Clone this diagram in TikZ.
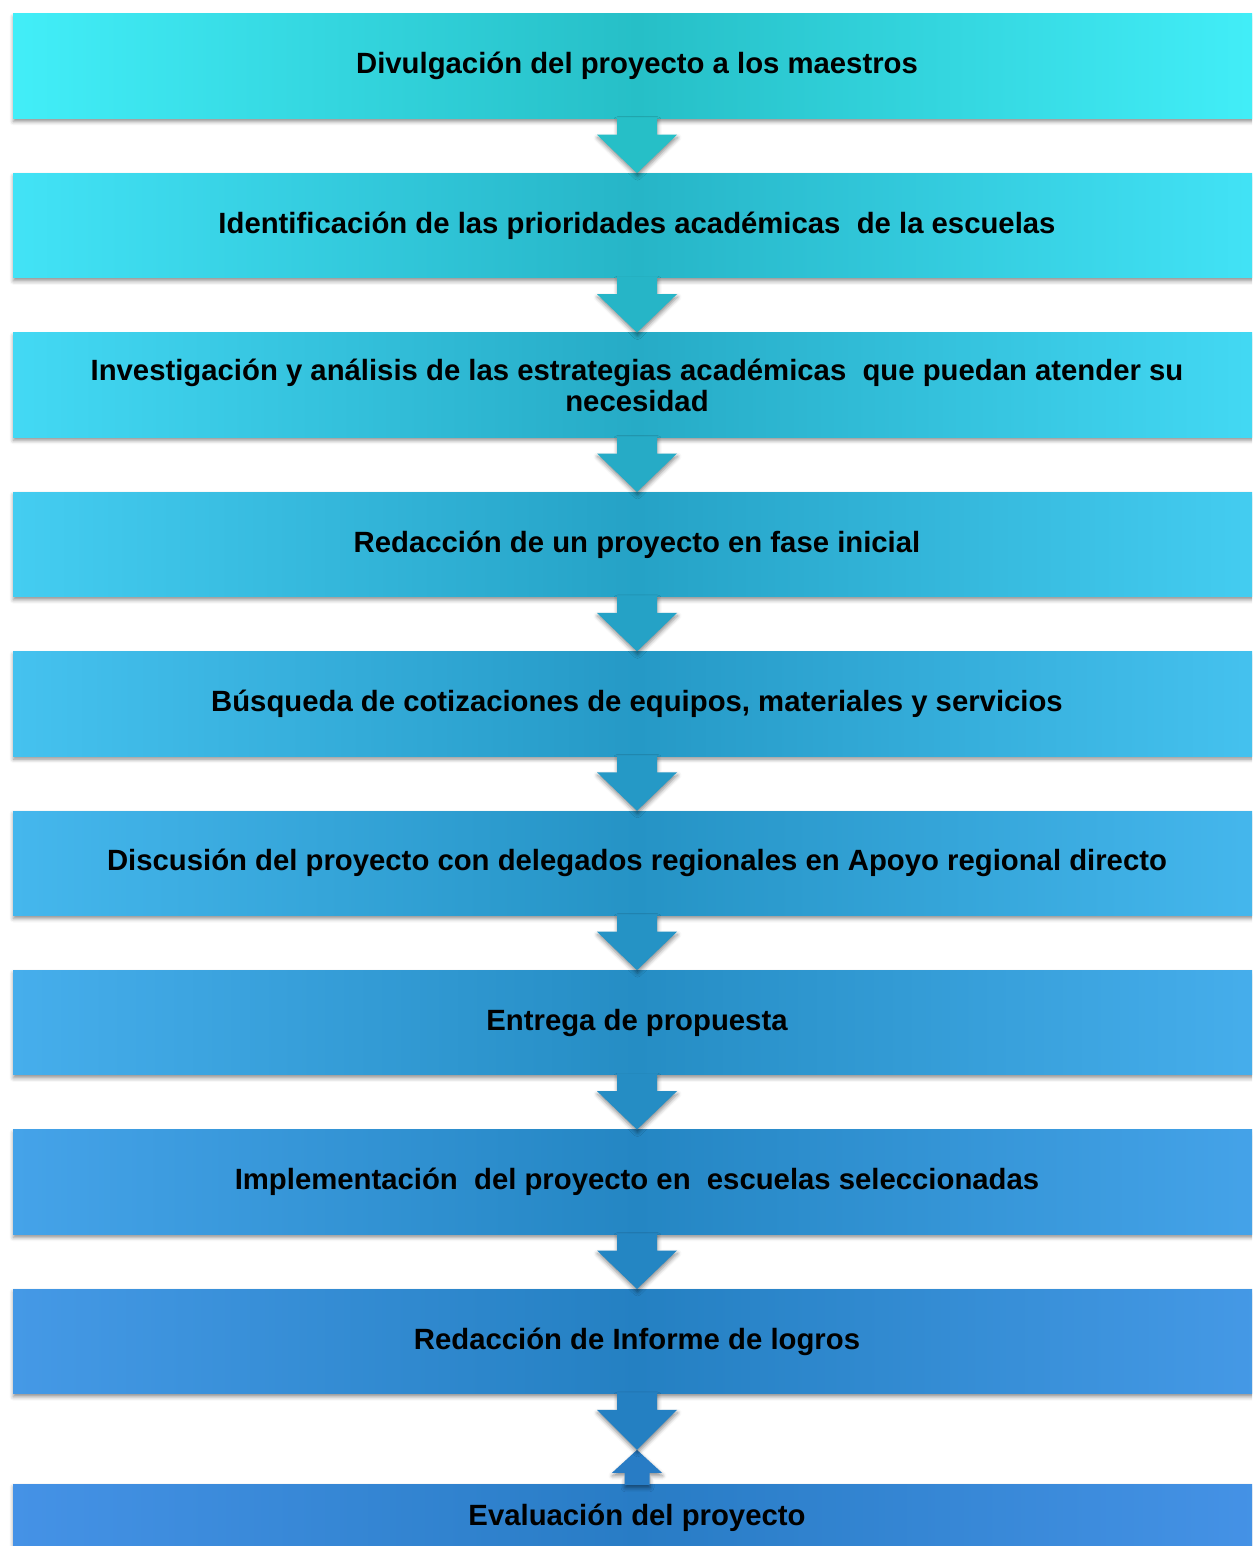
\documentclass[tikz,border=0pt]{standalone}
\usepackage{fontspec}
\setmainfont{Liberation Sans}
\usetikzlibrary{shadows.blur,calc}
\definecolor{e0}{RGB}{66,238,248}\definecolor{c0}{RGB}{38,191,199}
\definecolor{e1}{RGB}{66,227,246}\definecolor{c1}{RGB}{38,181,199}
\definecolor{e2}{RGB}{67,217,244}\definecolor{c2}{RGB}{38,171,198}
\definecolor{e3}{RGB}{68,205,241}\definecolor{c3}{RGB}{37,162,198}
\definecolor{e4}{RGB}{69,194,239}\definecolor{c4}{RGB}{37,153,198}
\definecolor{e5}{RGB}{69,183,237}\definecolor{c5}{RGB}{37,147,197}
\definecolor{e6}{RGB}{70,174,236}\definecolor{c6}{RGB}{37,141,196}
\definecolor{e7}{RGB}{69,163,233}\definecolor{c7}{RGB}{36,134,195}
\definecolor{e8}{RGB}{69,153,230}\definecolor{c8}{RGB}{36,128,194}
\definecolor{e9}{RGB}{69,146,230}\definecolor{c9}{RGB}{40,124,197}
\tikzset{
  sh/.style={blur shadow={shadow xshift=0.5pt, shadow yshift=-3pt, shadow blur radius=4pt, shadow opacity=45}},
  stepbox/.style={sh, draw=none, minimum width=1248pt, minimum height=104.5pt, inner sep=0pt,
    align=center, text=black, font=\fontsize{29.3}{31}\selectfont\bfseries},
  arr/.style={sh, draw=none}
}
\begin{document}
\begin{tikzpicture}[x=1pt,y=1pt]
\useasboundingbox (0,0) rectangle (1252,-1546);
\clip (0,0) rectangle (1252,-1546);
\node[stepbox, left color=e0, right color=e0, middle color=c0] (b0) at (637,-66.25) {Divulgación del proyecto a los maestros};
\node[stepbox, left color=e1, right color=e1, middle color=c1] (b1) at (637,-225.65) {Identificación de las prioridades académicas\ \ de la escuelas};
\node[stepbox, left color=e2, right color=e2, middle color=c2] (b2) at (637,-385.05) {Investigación y análisis de las estrategias académicas\ \ que puedan atender su\\necesidad};
\node[stepbox, left color=e3, right color=e3, middle color=c3] (b3) at (637,-544.45) {Redacción de un proyecto en fase inicial};
\node[stepbox, left color=e4, right color=e4, middle color=c4] (b4) at (637,-703.85) {Búsqueda de cotizaciones de equipos, materiales y servicios};
\node[stepbox, left color=e5, right color=e5, middle color=c5] (b5) at (637,-863.25) {Discusión del proyecto con delegados regionales en Apoyo regional directo};
\node[stepbox, left color=e6, right color=e6, middle color=c6] (b6) at (637,-1022.65) {Entrega de propuesta};
\node[stepbox, left color=e7, right color=e7, middle color=c7] (b7) at (637,-1182.05) {Implementación\ \ del proyecto en\ \ escuelas seleccionadas};
\node[stepbox, left color=e8, right color=e8, middle color=c8] (b8) at (637,-1341.45) {Redacción de Informe de logros};
\node[stepbox, minimum height=68pt, left color=e9, right color=e9, middle color=c9] (b9) at (637,-1518) {Evaluación del proyecto};
\foreach \i/\j in {0/1,1/2,2/3,3/4,4/5,5/6,6/7,7/8}{
  \fill[arr, fill=c\i] ($(b\i.south)+(-20,1)$) -- ($(b\i.south)+(-20,-16)$) -- ($(b\i.south)+(-40,-16)$)
    -- (b\j.north) -- ($(b\i.south)+(40,-16)$) -- ($(b\i.south)+(20,-16)$) -- ($(b\i.south)+(20,1)$) -- cycle;
}
\coordinate (m) at ($(b8.south)+(0,-56)$);
\fill[arr, fill=c9] ($(b9.north)+(-12.5,-1)$) -- ($(b9.north)+(-12.5,11)$) -- ($(b9.north)+(-25,11)$)
  -- (m) -- ($(b9.north)+(25,11)$) -- ($(b9.north)+(12.5,11)$) -- ($(b9.north)+(12.5,-1)$) -- cycle;
\fill[arr, fill=c8] ($(b8.south)+(-20,1)$) -- ($(b8.south)+(-20,-16)$) -- ($(b8.south)+(-40,-16)$)
  -- (m) -- ($(b8.south)+(40,-16)$) -- ($(b8.south)+(20,-16)$) -- ($(b8.south)+(20,1)$) -- cycle;
\end{tikzpicture}
\end{document}
